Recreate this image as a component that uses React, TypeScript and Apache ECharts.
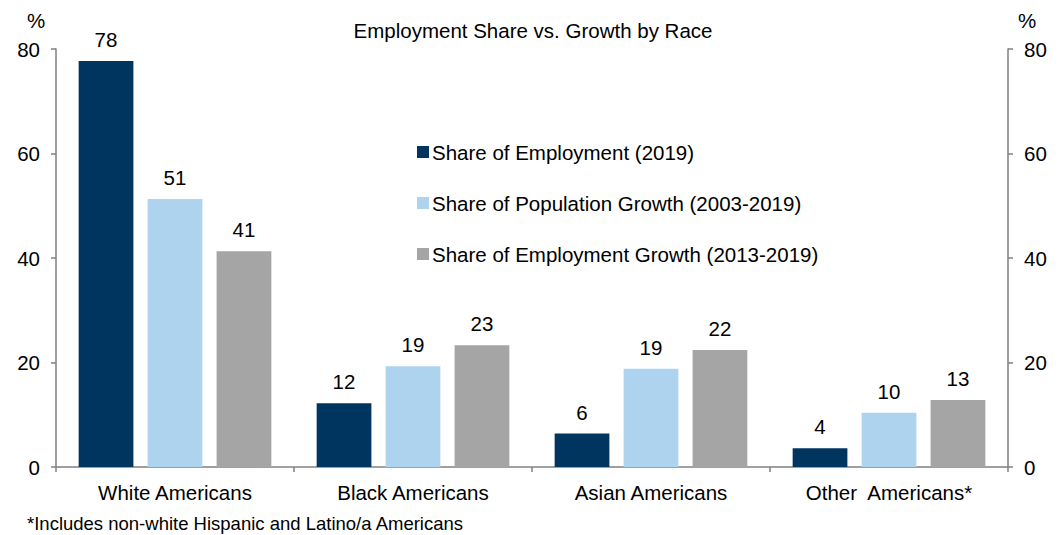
import React, { useEffect, useRef } from "react";
import * as echarts from "echarts";

const categories = ["White Americans", "Black Americans", "Asian Americans", "Other  Americans*"];
const seriesNames = [
  "Share of Employment (2019)",
  "Share of Population Growth (2003-2019)",
  "Share of Employment Growth (2013-2019)",
];
const employmentShare = [77.7, 12.2, 6.4, 3.6];
const populationGrowth = [51.3, 19.3, 18.8, 10.4];
const employmentGrowth = [41.3, 23.3, 22.4, 12.8];
const colors = ["#00355f", "#aed3ef", "#a5a5a5"];
const yTicks = [0, 20, 40, 60, 80];

const FONT = "Liberation Sans, Arial, sans-serif";
const FS = 20.5;

export default function App() {
  const ref = useRef<HTMLDivElement>(null);
  useEffect(() => {
    const chart = echarts.init(ref.current!, null, { renderer: "svg" });
    const yAxisBase = (pos: "left" | "right") => ({
      type: "value",
      position: pos,
      min: yTicks[0],
      max: yTicks[yTicks.length - 1],
      interval: 20,
      splitLine: { show: false },
      axisLine: { show: true, lineStyle: { color: "#808080", width: 1.5 } },
      axisTick: { show: true, inside: false, length: 5, lineStyle: { color: "#808080", width: 1.5 } },
      axisLabel: { color: "#000", fontSize: FS, fontFamily: FONT, margin: 16 },
    });
    const data = [employmentShare, populationGrowth, employmentGrowth];
    chart.setOption({
      animation: false,
      textStyle: { fontFamily: FONT },
      title: {
        text: "Employment Share vs. Growth by Race",
        left: 533,
        top: 20,
        padding: 0,
        textAlign: "center",
        textStyle: { fontSize: 20.5, fontWeight: "normal", color: "#000", fontFamily: FONT },
      },
      legend: {
        orient: "vertical",
        left: 417,
        top: 141.5,
        padding: 0,
        itemWidth: 12,
        itemHeight: 12,
        itemGap: 30,
        icon: "rect",
        textStyle: { fontSize: FS, color: "#000", fontFamily: FONT, lineHeight: FS, padding: [0, 0, 0, -2] },
        data: seriesNames,
      },
      grid: { left: 56, right: 55, top: 49, bottom: 68, containLabel: false },
      xAxis: {
        type: "category",
        data: categories,
        axisLine: { lineStyle: { color: "#808080", width: 1.5 } },
        axisTick: { show: true, length: 5, lineStyle: { color: "#808080", width: 1.5 } },
        axisLabel: { color: "#000", fontSize: FS, fontFamily: FONT, margin: 15 },
      },
      yAxis: [yAxisBase("left"), yAxisBase("right")],
      graphic: [
        { type: "text", left: 27, top: 10, style: { text: "%", fontSize: FS, fill: "#000", fontFamily: FONT } },
        { type: "text", left: 1018, top: 10, style: { text: "%", fontSize: FS, fill: "#000", fontFamily: FONT } },
        {
          type: "text",
          left: 27,
          top: 514,
          style: { text: "*Includes non-white Hispanic and Latino/a Americans", fontSize: 18.5, fill: "#000", fontFamily: FONT },
        },
      ],
      series: seriesNames.map((name, i) => ({
        name,
        type: "bar",
        yAxisIndex: 0,
        data: data[i],
        barWidth: "23%",
        barGap: "26%",
        itemStyle: { color: colors[i] },
        label: {
          show: true,
          position: "top",
          distance: 11,
          color: "#000",
          fontSize: FS,
          fontFamily: FONT,
          formatter: (p: any) => String(Math.round(p.value)),
        },
      })),
    });
    return () => chart.dispose();
  }, []);
  return <div ref={ref} style={{ position: "absolute", left: 0, top: 0, width: 1063, height: 535, background: "#fff" }} />;
}
